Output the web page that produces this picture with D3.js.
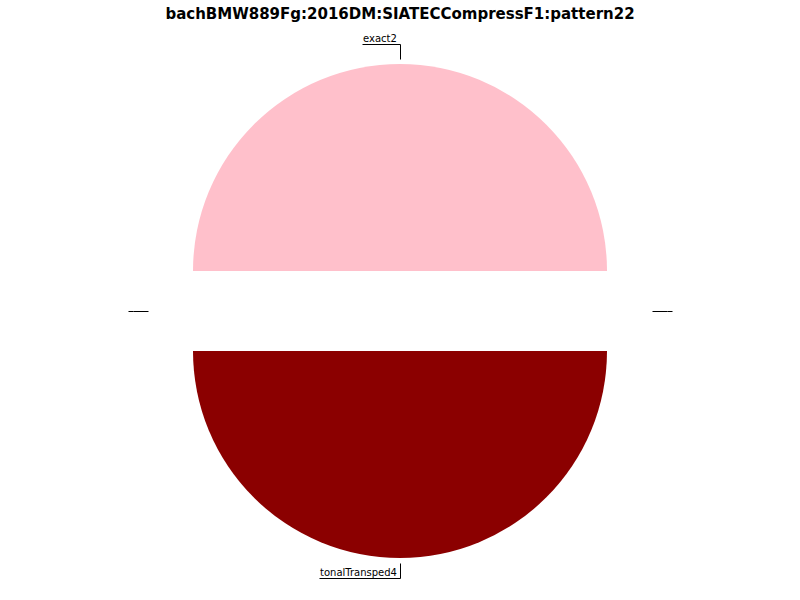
<!DOCTYPE html>
<html>
<head>
<meta charset="utf-8">
<script src="https://cdn.jsdelivr.net/npm/d3@7"></script>
<style>
  body { margin: 0; background: #fff; }
  svg { display: block; font-family: "DejaVu Sans", sans-serif; }
</style>
</head>
<body>
<div class="container"></div>
<script>
const titleText = 'bachBMW889Fg:2016DM:SIATECCompressF1:pattern22';
const labels = ['exact2', '', 'tonalTransped4', ''];
const values = [1, 0, 1, 0];
const colors = ['#ffc0cb', '#ffffff', '#8b0000', '#ffffff'];

const w = 800;
const h = 600;
const cx = 400, cy = 311;
const radius = 207;
const explode = 40;

const svg = d3.select('.container')
    .append('svg')
    .attr('width', w)
    .attr('height', h)
    .attr('viewBox', [0, 0, w, h]);

svg.append('text')
    .attr('x', w / 2)
    .attr('y', 19)
    .attr('text-anchor', 'middle')
    .style('font-size', '15px')
    .style('font-weight', 'bold')
    .text(titleText);

const data = labels.map((d, i) => ({ label: d, value: values[i], color: colors[i] }));

const pie = d3.pie()
    .value(d => d.value)
    .sort(null)
    .startAngle(-Math.PI / 2)
    .endAngle(3 * Math.PI / 2);

const arc = d3.arc().innerRadius(0).outerRadius(radius);

const arcs = pie(data);
const mid = d => (d.startAngle + d.endAngle) / 2;

const g = svg.append('g').attr('transform', `translate(${cx},${cy})`);

// slices, each pushed out along its bisector
g.selectAll('path')
    .data(arcs.filter(d => d.value > 0))
    .join('path')
    .attr('transform', d => `translate(${Math.sin(mid(d)) * explode},${-Math.cos(mid(d)) * explode})`)
    .attr('d', arc)
    .attr('fill', d => d.data.color);

// labels with leader lines
arcs.forEach(d => {
    const a = mid(d);
    const sx = Math.sin(a), sy = -Math.cos(a);
    const r0 = explode + radius + 5;
    const r1 = explode + radius + 20;
    const x0 = Math.round(sx * r0) + 0.5, y0 = Math.round(sy * r0) + 0.5;
    const x1 = Math.round(sx * r1) + 0.5, y1 = Math.round(sy * r1) + 0.5;

    const t = g.append('text')
        .style('font-size', '10px')
        .text(d.data.label);
    const tw = Math.max(Math.round(t.node().getComputedTextLength()) + 4, 5);

    // horizontal run: to the right on the right side, otherwise to the left
    const dir = sx > 0.5 ? 1 : -1;
    const x2 = x1 + dir * tw;

    g.append('path')
        .attr('d', `M${x0},${y0}L${x1},${y1}L${x2},${y1}`)
        .attr('fill', 'none')
        .attr('stroke', '#000')
        .attr('stroke-width', 1);

    t.attr('x', Math.min(x1, x2) + 0.5)
        .attr('y', y1 - 2.5);
});
</script>
</body>
</html>
